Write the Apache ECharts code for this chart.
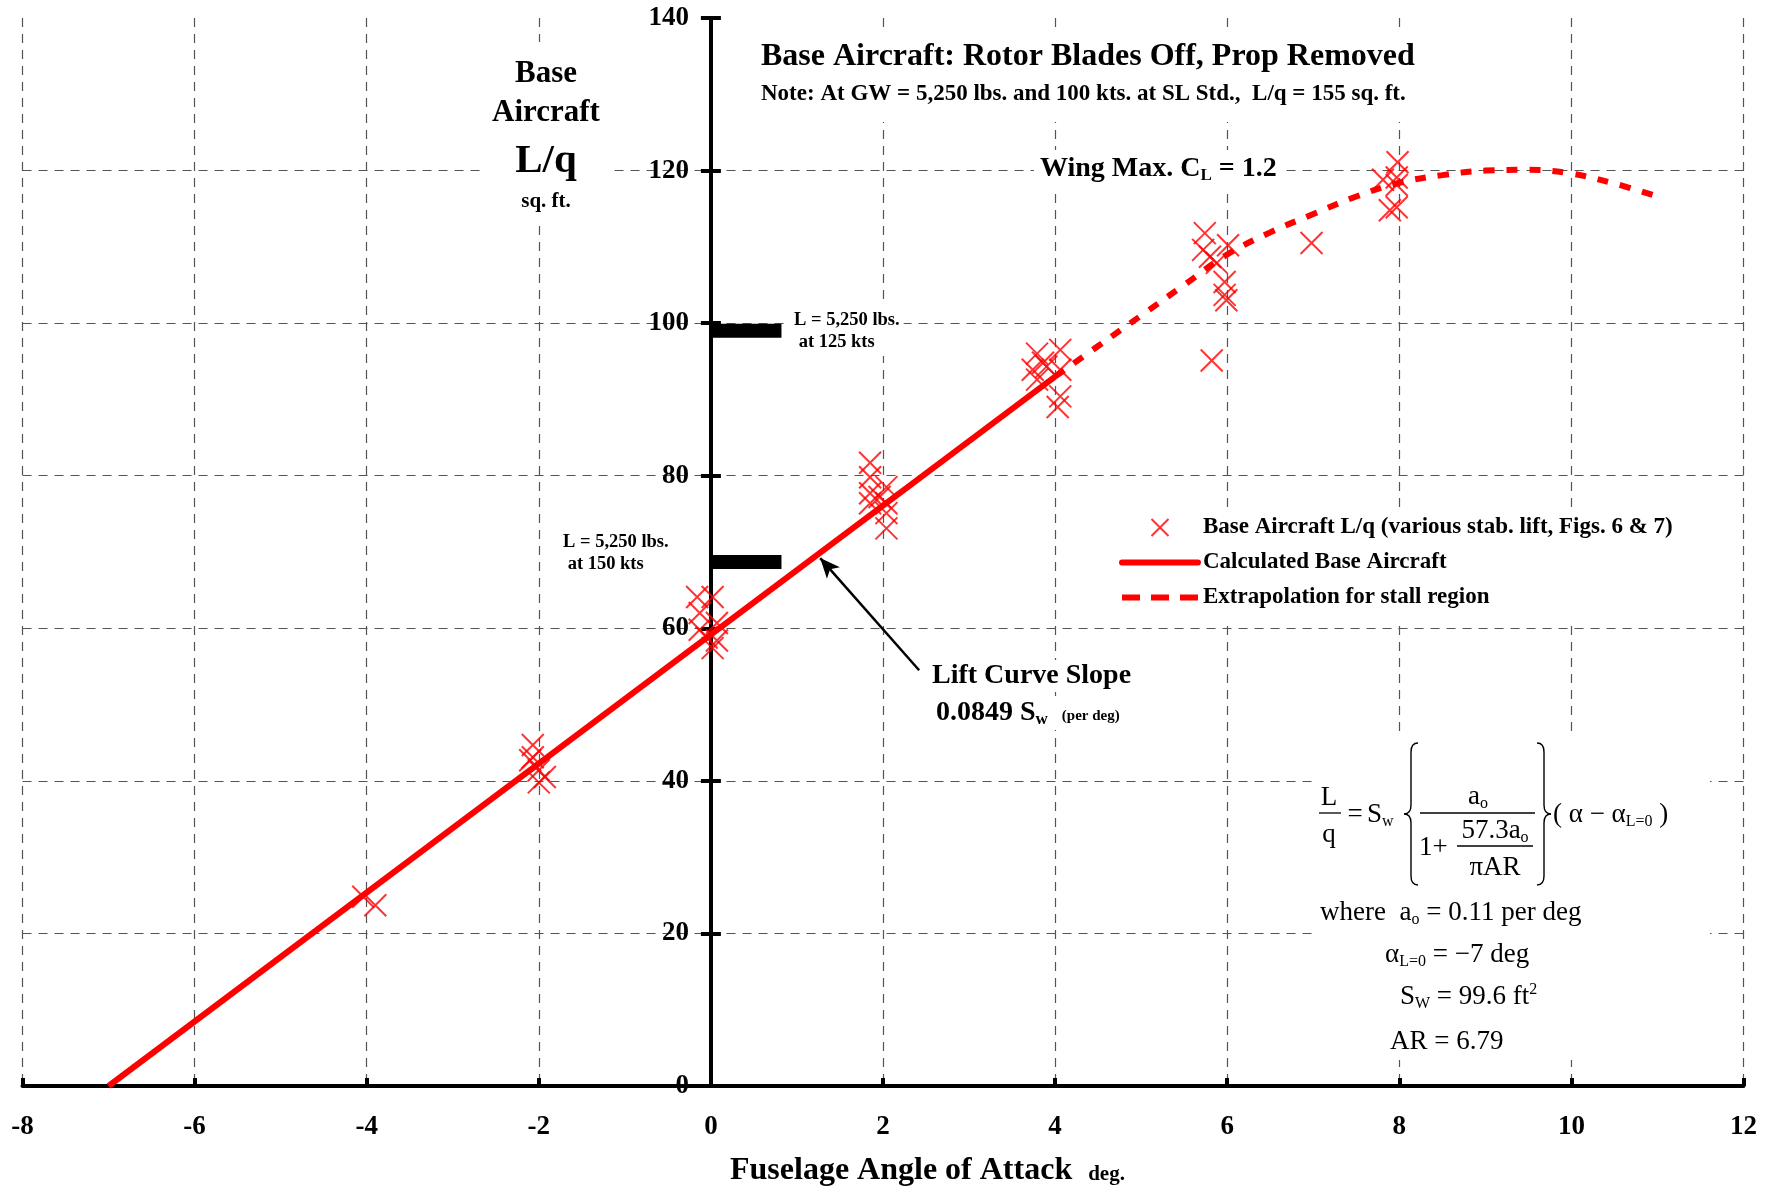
<!DOCTYPE html>
<html><head><meta charset="utf-8">
<script src="https://cdn.jsdelivr.net/npm/echarts@6/dist/echarts.min.js"></script>
<style>html,body{margin:0;padding:0;background:#fff}#c{width:1766px;height:1191px}</style>
</head><body><div id="c"></div>
<script>
// ---- data ----
const xTickMin = -8, xTickMax = 12, xTickStep = 2;
const yTickMin = 0, yTickMax = 140, yTickStep = 20;

// measured L/q points (x = fuselage AoA deg, y = L/q sq ft)
const measX = [-4.04,-3.90, -2.07,-2.10,-2.00,-2.00,-1.93,-2.07,
  -0.16,0.02,-0.13,0.07,-0.13,0.07,0.02,-0.05,
  1.85,1.85,2.04,1.85,1.85,2.04,2.04,2.04,1.96,
  3.79,4.06,3.74,3.86,4.06,4.06,4.03,3.90,3.79,
  5.74,6.01,5.72,5.80,5.88,5.97,5.97,5.99,5.82,6.98,
  7.98,7.81,7.97,7.97,7.89,7.97];
const measY = [24.8,23.7, 44.7,42.7,41.4,39.8,40.5,43.1,
  64.1,64.1,62.0,60.7,59.8,58.4,57.4,58.8,
  81.7,79.8,78.5,77.7,76.4,76.4,75.1,73.1,77.2,
  96.0,96.5,93.9,94.8,93.9,90.4,89.0,94.3,92.6,
  111.8,110.2,109.6,108.7,107.9,105.4,103.7,103.0,95.1,110.5,
  121.1,118.8,118.1,119.1,114.8,115.2];

// calculated base aircraft line
const calcX = [-7, 4];
const calcY = [0, 93.0];

// extrapolation for stall region
const extrapX = [4.0,4.5,5.0,5.5,6.0,6.5,7.0,7.5,8.0,8.5,9.0,9.5,10.0,10.5,11.0];
const extrapY = [93.0,97.0,101.0,105.0,109.0,111.9,114.3,116.6,118.4,119.4,120.0,120.1,119.6,118.3,116.6];

// reference L/q bars (L = 5,250 lbs at 125 and 150 kts)
const refBarX = [0, 0.82];
const refBarY = [99.0, 68.7];

// lift curve slope arrow (tail, head)
const arrowX = [2.42, 1.27];
const arrowY = [54.5, 69.2];

const seriesNames = [
  'Base Aircraft L/q (various stab. lift, Figs. 6 & 7)',
  'Calculated Base Aircraft',
  'Extrapolation for stall region'
];

// ---- build ----
const zip = (a, b) => a.map((v, i) => [v, b[i]]);
const refBarData = [];
refBarY.forEach((y, i) => {
  if (i > 0) refBarData.push(['-', '-']);
  refBarData.push([refBarX[0], y], [refBarX[1], y]);
});

const SERIF = 'Liberation Serif, Times New Roman, serif';
const RED = '#ff0000';
const GRID = '#555';

const GRID_LEFT = 22.5, GRID_RIGHT = 22.5, CHART_W = 1766;
const plotW = CHART_W - GRID_LEFT - GRID_RIGHT;
// y axis sits at x = 0: offset it from the left edge of the grid
const yAxisOffset = -plotW * (0 - xTickMin) / (xTickMax - xTickMin);

const ySplitColors = [];
for (let v = yTickMin; v <= yTickMax; v += yTickStep) {
  ySplitColors.push(v === yTickMin || v === yTickMax ? 'rgba(0,0,0,0)' : GRID);
}

function txt(x, y, text, size, opts) {
  opts = opts || {};
  return {
    type: 'text', x: x, y: y, z: opts.z || 10,
    style: Object.assign({
      text: text, fontFamily: SERIF, fontSize: size,
      fontWeight: opts.weight || 'bold', fill: '#000',
      align: opts.align || 'left', verticalAlign: 'middle'
    }, opts.style || {})
  };
}
function rect(x, y, w, h) {
  return { type: 'rect', z: 5, shape: { x: x, y: y, width: w, height: h }, style: { fill: '#fff' } };
}
function hline(x1, x2, y, w) {
  return { type: 'line', z: 10, shape: { x1: x1, y1: y, x2: x2, y2: y }, style: { stroke: '#000', lineWidth: w || 1.3 } };
}
function brace(xo, xm, xt, y0, y1) {
  const ym = (y0 + y1) / 2, r = 9;
  const st = { stroke: '#000', lineWidth: 1.4, fill: null };
  const mk = (x1, y1_, x2, y2, cx, cy) => ({ type: 'bezierCurve', z: 10, shape: { x1: x1, y1: y1_, x2: x2, y2: y2, cpx1: cx, cpy1: cy }, style: st });
  return [
    mk(xo, y0, xm, y0 + r, xm, y0),
    { type: 'line', z: 10, shape: { x1: xm, y1: y0 + r, x2: xm, y2: ym - r }, style: st },
    mk(xm, ym - r, xt, ym, xm, ym),
    mk(xt, ym, xm, ym + r, xm, ym),
    { type: 'line', z: 10, shape: { x1: xm, y1: ym + r, x2: xm, y2: y1 - r }, style: st },
    mk(xm, y1 - r, xo, y1, xm, y1)
  ];
}

const F = 27; // formula font size
const richF = {
  sub: { fontSize: 16, lineHeight: 16, padding: [14, 0, 0, 0], fontFamily: SERIF },
  sup: { fontSize: 16, lineHeight: 16, padding: [0, 0, 14, 0], fontFamily: SERIF }
};
function ftxt(x, y, text, align) {
  return txt(x, y, text, F, { weight: 'normal', align: align || 'left', style: { lineHeight: 30, rich: richF } });
}

const graphics = [
  rect(752, 30, 682, 92),
  rect(482, 42, 130, 180),
  rect(1315, 732, 395, 328),
  txt(761, 57, 'Base Aircraft: Rotor Blades Off, Prop Removed', 32),
  txt(761, 94, 'Note: At GW = 5,250 lbs. and 100 kts. at SL Std.,  L/q = 155 sq. ft.', 23),
  txt(546, 74, 'Base', 31, { align: 'center' }),
  txt(546, 113, 'Aircraft', 31, { align: 'center' }),
  txt(546, 161, 'L/q', 41, { align: 'center' }),
  txt(546, 202, 'sq. ft.', 21, { align: 'center' }),
  txt(1034, 169, 'Wing Max. C{sub|L} = 1.2', 28, { style: {
    backgroundColor: '#fff', padding: [4, 6, 4, 6], lineHeight: 30,
    rich: { sub: { fontSize: 17, fontWeight: 'bold', fontFamily: SERIF, lineHeight: 17, padding: [14, 0, 0, 0] } } } }),
  txt(790, 331, 'L = 5,250 lbs.\n at 125 kts', 18.5, { style: { lineHeight: 22, backgroundColor: '#fff', padding: [3, 4, 3, 4] } }),
  txt(559, 553, 'L = 5,250 lbs.\n at 150 kts', 18.5, { style: { lineHeight: 22, backgroundColor: '#fff', padding: [3, 4, 3, 4] } }),
  txt(926, 676, 'Lift Curve Slope', 28, { style: { backgroundColor: '#fff', padding: [2, 6, 2, 6] } }),
  txt(930, 713, '0.0849 S{sub|w}  {small|(per deg)}', 28, { style: {
    backgroundColor: '#fff', padding: [2, 6, 2, 6], lineHeight: 30,
    rich: {
      sub: { fontSize: 17, fontWeight: 'bold', fontFamily: SERIF, lineHeight: 17, padding: [14, 0, 0, 0] },
      small: { fontSize: 15, fontWeight: 'bold', fontFamily: SERIF, lineHeight: 15, padding: [6, 0, 0, 0] }
    } } }),
  txt(730, 1171, 'Fuselage Angle of Attack  {small|deg.}', 32, { style: {
    lineHeight: 34, rich: { small: { fontSize: 21, fontWeight: 'bold', fontFamily: SERIF, lineHeight: 21, padding: [8, 0, 0, 0] } } } }),
  ftxt(1329, 798, 'L', 'center'),
  hline(1319, 1341, 813),
  ftxt(1329, 835, 'q', 'center'),
  ftxt(1355, 815, '=', 'center'),
  ftxt(1367, 815, 'S{sub|w}'),
  ftxt(1478, 797, 'a{sub|o}', 'center'),
  hline(1420, 1535, 813),
  ftxt(1419, 848, '1+'),
  ftxt(1495, 831, '57.3a{sub|o}', 'center'),
  hline(1457, 1533, 846),
  ftxt(1495, 868, 'πAR', 'center'),
  ftxt(1553, 815, '( α − α{sub|L=0} )'),
  ftxt(1320, 913, 'where  a{sub|o} = 0.11 per deg'),
  ftxt(1385, 955, 'α{sub|L=0} = −7 deg'),
  ftxt(1400, 997, 'S{sub|W} = 99.6 ft{sup|2}'),
  ftxt(1390, 1042, 'AR = 6.79')
].concat(brace(1418, 1411, 1404, 743, 885), brace(1537, 1544, 1551, 743, 885));

const axisLabelStyle = { fontFamily: SERIF, fontWeight: 'bold', fontSize: 27, color: '#000' };

const option = {
  animation: false,
  backgroundColor: '#fff',
  grid: { left: GRID_LEFT, right: GRID_RIGHT, top: 18, bottom: 105, containLabel: false, outerBoundsMode: 'none' },
  xAxis: {
    type: 'value', min: xTickMin, max: xTickMax, interval: xTickStep,
    axisLine: { show: true, onZero: false, lineStyle: { color: '#000', width: 4 } },
    axisTick: { show: true, inside: true, length: 8, lineStyle: { color: '#000', width: 4 } },
    axisLabel: Object.assign({ margin: 28 }, axisLabelStyle),
    splitLine: { show: true, lineStyle: { color: GRID, width: 1.2, type: [9, 7] } }
  },
  yAxis: [{
    type: 'value', min: yTickMin, max: yTickMax, interval: yTickStep, position: 'left',
    offset: yAxisOffset,
    axisLine: { show: true, onZero: false, lineStyle: { color: '#000', width: 4 } },
    axisTick: { show: true, inside: false, length: 10, lineStyle: { color: '#000', width: 4 } },
    axisLabel: Object.assign({ margin: 22 }, axisLabelStyle),
    splitLine: { show: true, lineStyle: { color: ySplitColors, width: 1.2, type: [9, 7] } }
  }, {
    type: 'value', min: yTickMin, max: yTickMax, interval: yTickStep, position: 'left',
    offset: yAxisOffset,
    axisLine: { show: true, onZero: false, lineStyle: { color: '#000', width: 4 } },
    axisTick: { show: true, inside: true, length: 10, lineStyle: { color: '#000', width: 4 } },
    axisLabel: { show: false },
    splitLine: { show: false }
  }],
  legend: {
    orient: 'vertical', left: 1099, top: 508,
    padding: [8, 28, 10, 20],
    backgroundColor: '#fff',
    itemWidth: 76, itemHeight: 17, itemGap: 12,
    textStyle: { fontFamily: SERIF, fontWeight: 'bold', fontSize: 23, color: '#000', lineHeight: 17 },
    data: [
      { name: seriesNames[0], icon: 'path://M0,0L10,10M10,0L0,10' },
      { name: seriesNames[1], itemStyle: { opacity: 0 }, lineStyle: { width: 6, color: RED, type: 'solid', cap: 'round' } },
      { name: seriesNames[2], itemStyle: { opacity: 0 }, lineStyle: { width: 6, color: RED, type: [18, 11] } }
    ]
  },
  graphic: { elements: graphics },
  series: [
    {
      name: seriesNames[0], type: 'scatter',
      data: zip(measX, measY),
      symbol: 'path://M0,0L10,10M10,0L0,10', symbolSize: 22,
      itemStyle: { color: 'rgba(255,0,0,0)', borderColor: RED, borderWidth: 2 },
      emphasis: { disabled: true }, z: 3
    },
    {
      name: seriesNames[1], type: 'line',
      data: zip(calcX, calcY), symbol: 'none',
      lineStyle: { color: RED, width: 6 }, itemStyle: { color: 'rgba(0,0,0,0)' },
      emphasis: { disabled: true },
      markLine: {
        silent: true, symbol: ['none', 'arrow'], symbolSize: [13, 20],
        label: { show: false },
        lineStyle: { color: '#000', width: 2.5, type: 'solid' },
        itemStyle: { color: '#000' },
        data: [[{ coord: [arrowX[0], arrowY[0]] }, { coord: [arrowX[1], arrowY[1]] }]]
      }
    },
    {
      name: seriesNames[2], type: 'line',
      data: zip(extrapX, extrapY), symbol: 'none', smooth: 0.4,
      lineStyle: { color: RED, width: 6, type: [11, 12] }, itemStyle: { color: 'rgba(0,0,0,0)' },
      emphasis: { disabled: true }
    },
    {
      name: 'refbars', type: 'line', data: refBarData, symbol: 'none', connectNulls: false,
      lineStyle: { color: '#000', width: 14, cap: 'butt' }, itemStyle: { color: '#000' },
      emphasis: { disabled: true }, z: 2
    }
  ]
};

const chart = echarts.init(document.getElementById('c'), null, { renderer: 'canvas' });
chart.setOption(option);
</script>
</body></html>
